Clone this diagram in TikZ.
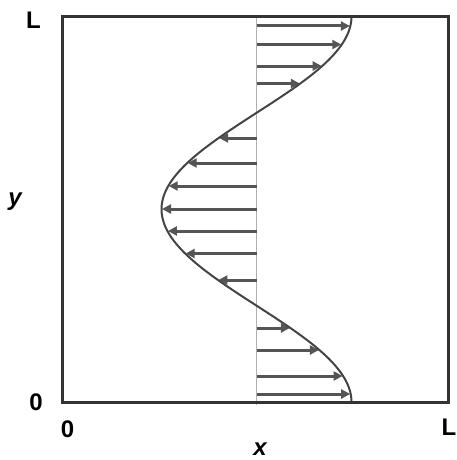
\documentclass[tikz,border=0pt]{standalone}
\usepackage{fontspec}
\setmainfont{Liberation Sans}
\usetikzlibrary{arrows.meta}
\definecolor{boxc}{HTML}{333333}
\definecolor{curvec}{HTML}{444444}
\definecolor{arrc}{HTML}{555555}
\definecolor{midc}{HTML}{B0B0B0}
\tikzset{
  lbl/.style={font=\fontsize{24}{26}\selectfont\bfseries, text=black, inner sep=0pt, anchor=base},
  vlbl/.style={lbl, font=\fontsize{24}{26}\selectfont\bfseries\itshape},
  vel/.style={draw=arrc, line width=3pt, -{Triangle[length=9pt,width=9pt]}, shorten >=0.5pt},
}
\begin{document}
\begin{tikzpicture}[x=1pt,y=-1pt]
\useasboundingbox (0,0) rectangle (456,460);
\def\cx{256.5}
\def\amp{95}
\def\ytop{16.5}
\def\hh{385.5}
% centre line
\draw[midc, line width=0.8pt] (\cx,\ytop) -- (\cx,405);
% arrows
\foreach \yy in {26,44.5,66,83.5,138,163,186,209,231,253.5,280,328,350,376,394}{
  \pgfmathsetmacro{\fr}{(\yy-\ytop)/\hh}
  \pgfmathsetmacro{\xe}{\cx+\amp*cos(360*\fr)}
  \coordinate (s) at (\cx,\yy);
  \coordinate (e) at (\xe,\yy);
  \draw[vel] (s) -- (e);
}
% curve
\draw[curvec, line width=2pt] plot[domain=0:1, samples=120, smooth] ({\cx+\amp*cos(360*\x)},{\ytop+\hh*\x});
% box
\draw[boxc, line width=3pt] (62.5,\ytop) rectangle (448,402.5);
% labels
\node[lbl] (Ltop) at (33.5,29) {L};
\node[lbl] (zl) at (36,410) {0};
\node[vlbl] (ylab) at (15,205.5) {y};
\node[lbl] (zb) at (67.5,437) {0};
\node[lbl] (Lb) at (449,435) {L};
\node[vlbl] (xlab) at (260,455.5) {x};
\end{tikzpicture}
\end{document}
